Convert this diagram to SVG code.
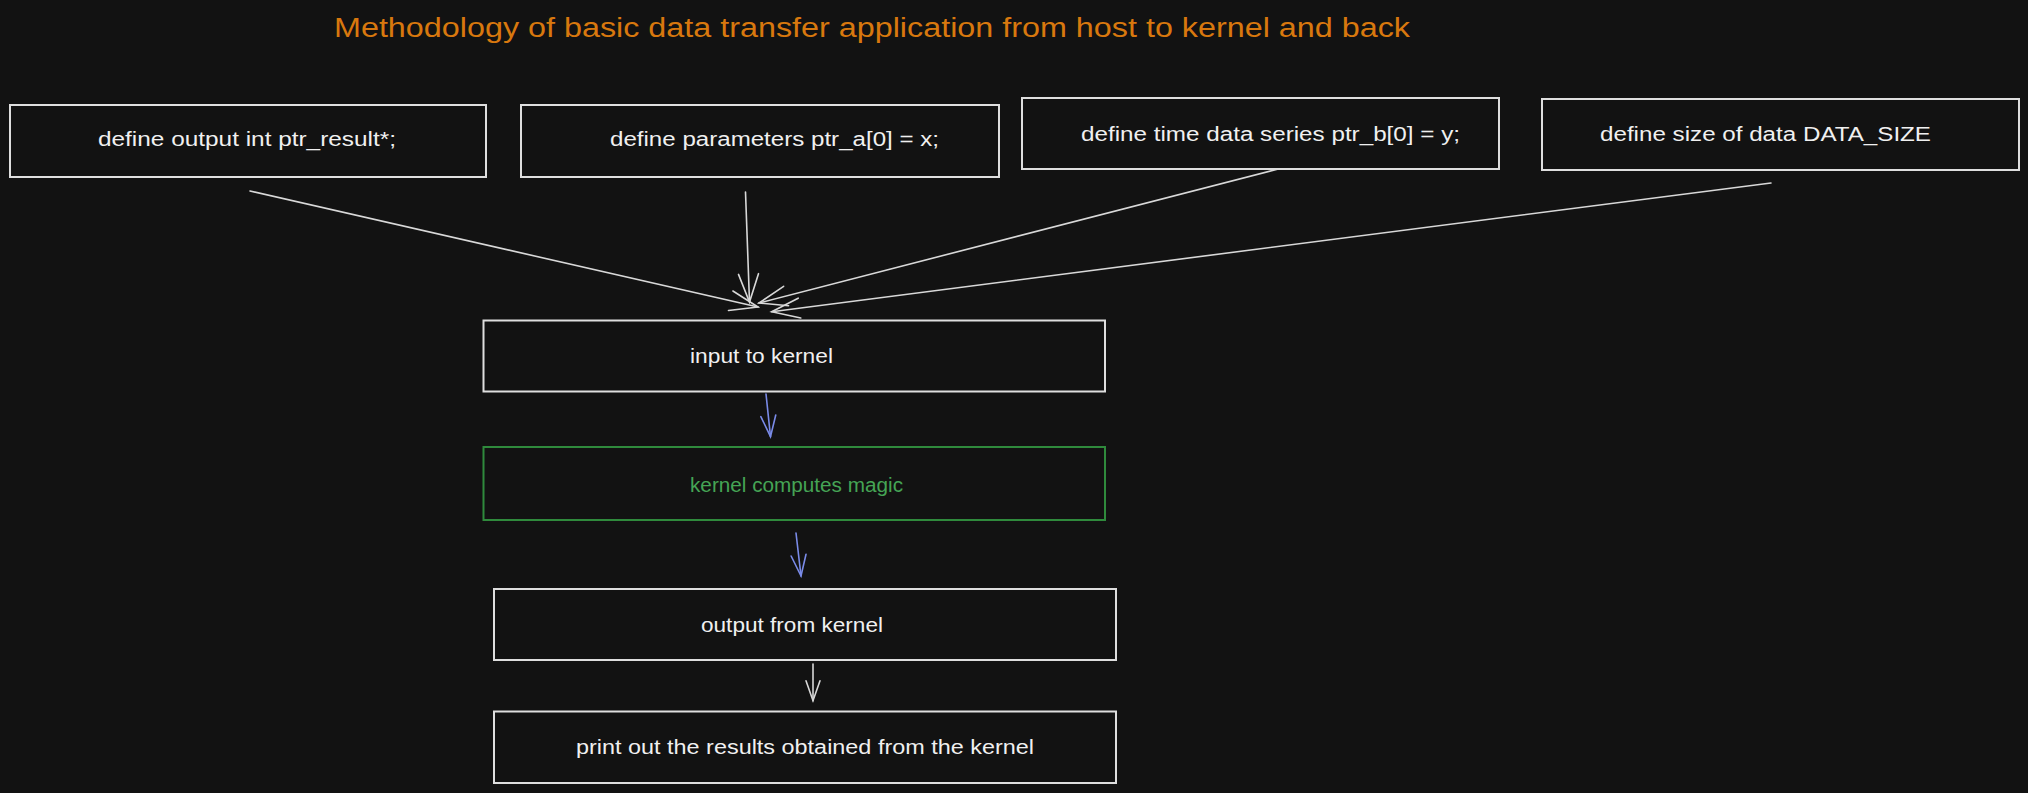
<svg xmlns="http://www.w3.org/2000/svg" width="2028" height="793" viewBox="0 0 2028 793">
<style>
.bg{fill:#121212}
.box{fill:#121212;stroke:#dedede;stroke-width:2}
.gbox{fill:#121212;stroke:#2f8a3c;stroke-width:2}
.t{font-family:"Liberation Sans",Arial,sans-serif;font-size:20px;fill:#f0f0f0}
.gt{font-family:"Liberation Sans",Arial,sans-serif;font-size:20px;fill:#45a455}
.title{font-family:"Liberation Sans",Arial,sans-serif;font-size:27px;fill:#d8780e}
.w{fill:none;stroke:#d8d8d8;stroke-width:1.6;stroke-linecap:round}
.b{fill:none;stroke:#7a8be8;stroke-width:1.6;stroke-linecap:round}
</style>
<defs>
<marker id="hw" markerUnits="userSpaceOnUse" orient="auto" markerWidth="40" markerHeight="40" refX="0" refY="0" overflow="visible">
<path d="M-28,-10 L0,0 L-28,10" fill="none" stroke="#d8d8d8" stroke-width="1.6" stroke-linecap="round"/>
</marker>
<marker id="hws" markerUnits="userSpaceOnUse" orient="auto" markerWidth="30" markerHeight="30" refX="0" refY="0" overflow="visible">
<path d="M-20,-7 L0,0 L-20,7" fill="none" stroke="#d8d8d8" stroke-width="1.6" stroke-linecap="round"/>
</marker>
<marker id="hb" markerUnits="userSpaceOnUse" orient="auto" markerWidth="30" markerHeight="30" refX="0" refY="0" overflow="visible">
<path d="M-21,-7.5 L0,0 L-21,7.5" fill="none" stroke="#7a8be8" stroke-width="1.6" stroke-linecap="round"/>
</marker>
</defs>
<rect class="bg" x="0" y="0" width="2028" height="793"/>
<text id="title" class="title" x="334" y="37" textLength="1076" lengthAdjust="spacingAndGlyphs">Methodology of basic data transfer application from host to kernel and back</text>
<g id="connectors">
<path class="w" d="M250,191 L758,307" marker-end="url(#hw)"/>
<path class="w" d="M745.5,192 L749.5,302" marker-end="url(#hw)"/>
<path class="w" d="M1282,168 L759,303" marker-end="url(#hw)"/>
<path class="w" d="M1771,183 L771.7,311.7" marker-end="url(#hw)"/>
<path class="b" d="M766,394 L770.5,436.7" marker-end="url(#hb)"/>
<path class="b" d="M796,533 L801,576" marker-end="url(#hb)"/>
<path class="w" d="M813,664 L813,700.7" marker-end="url(#hws)"/>
</g>
<g id="n1"><rect class="box" x="10" y="105" width="476" height="72"/><text class="t" x="98" y="146" textLength="298" lengthAdjust="spacingAndGlyphs">define output int ptr_result*;</text></g>
<g id="n2"><rect class="box" x="521" y="105" width="478" height="72"/><text class="t" x="610" y="146" textLength="329" lengthAdjust="spacingAndGlyphs">define parameters ptr_a[0] = x;</text></g>
<g id="n3"><rect class="box" x="1022" y="98" width="477" height="71"/><text class="t" x="1081" y="141" textLength="379" lengthAdjust="spacingAndGlyphs">define time data series ptr_b[0] = y;</text></g>
<g id="n4"><rect class="box" x="1542" y="99" width="477" height="71"/><text class="t" x="1600" y="141" textLength="331" lengthAdjust="spacingAndGlyphs">define size of data DATA_SIZE</text></g>
<g id="n5"><rect class="box" x="483.5" y="320.5" width="621.5" height="71"/><text class="t" x="690" y="363" textLength="143" lengthAdjust="spacingAndGlyphs">input to kernel</text></g>
<g id="n6"><rect class="gbox" x="483.5" y="447" width="621.5" height="73"/><text class="gt" x="690" y="491.5" textLength="213" lengthAdjust="spacingAndGlyphs">kernel computes magic</text></g>
<g id="n7"><rect class="box" x="494" y="589" width="622" height="71"/><text class="t" x="701" y="632" textLength="182" lengthAdjust="spacingAndGlyphs">output from kernel</text></g>
<g id="n8"><rect class="box" x="494" y="711.5" width="622" height="71.5"/><text class="t" x="576" y="754" textLength="458" lengthAdjust="spacingAndGlyphs">print out the results obtained from the kernel</text></g>
</svg>
